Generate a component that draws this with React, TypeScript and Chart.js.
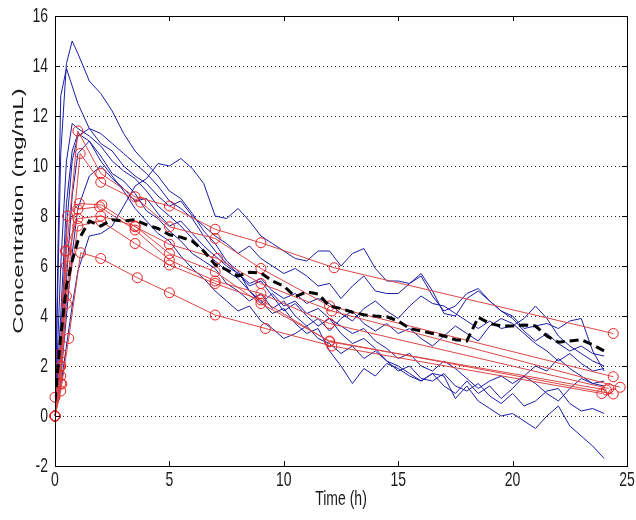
import React, { useEffect, useRef } from "react";
import { Chart, registerables } from "chart.js";
Chart.register(...registerables);

// ---------- data ----------
const simTimes = [0, 0.25, 0.5, 0.75, 1, 1.5, 2, 2.5, 3, 3.5, 4, 4.5, 5, 5.5, 6, 6.5, 7, 7.5, 8, 8.5, 9, 9.5, 10, 10.5, 11, 11.5, 12, 12.5, 13, 13.5, 14, 14.5, 15, 15.5, 16, 16.5, 17, 17.5, 18, 18.5, 19, 19.5, 20, 20.5, 21, 21.5, 22, 22.5, 23, 23.5, 24];

const sim1 = [0, 10.5, 14.1, 15.0, 14.5, 13.4, 12.9, 12.2, 11.3, 10.6, 10.1, 9.6, 9.0, 8.7, 8.1, 7.4, 6.9, 6.2, 5.8, 5.0, 4.6, 4.1, 4.3, 3.7, 3.3, 3.5, 2.6, 2.0, 1.3, 1.9, 1.6, 2.1, 1.9, 1.6, 1.4, 1.7, 1.6, 0.7, 1.2, 0.6, 0.3, 0.0, 0.1, -0.2, -0.5, 0.0, 0.4, -0.4, -0.8, -1.2, -1.7];
const sim2 = [0, 12.8, 13.9, 13.2, 12.5, 11.5, 11.3, 10.9, 10.5, 10.1, 9.7, 9.2, 8.6, 8.3, 7.9, 7.2, 6.6, 6.1, 5.7, 5.2, 5.4, 4.8, 4.2, 4.5, 4.0, 3.6, 3.9, 3.3, 2.9, 3.1, 2.7, 2.2, 1.8, 2.0, 1.5, 1.4, 1.7, 1.2, 1.0, 1.3, 0.8, 0.5, 0.9, 0.4, 0.6, 1.0, 1.1, 0.5, 0.2, 0.3, 0.1];
const sim3 = [0, 6.0, 10.2, 11.7, 11.5, 11.2, 10.8, 10.2, 9.8, 9.5, 9.0, 8.4, 8.0, 7.6, 7.1, 6.6, 6.2, 5.8, 5.5, 5.0, 4.5, 4.9, 4.4, 4.6, 4.1, 4.3, 3.9, 3.6, 3.3, 3.5, 3.0, 2.7, 2.3, 2.5, 2.0, 1.8, 2.2, 1.9, 1.5, 1.1, 1.4, 1.6, 1.3, 1.6, 2.0, 1.8, 2.3, 1.9, 1.6, 1.3, 1.4];
const sim4 = [0, 3.0, 7.5, 10.2, 11.2, 11.5, 10.9, 10.6, 10.0, 9.6, 9.3, 8.8, 8.4, 8.6, 8.0, 7.6, 7.2, 6.9, 6.5, 6.8, 6.3, 6.0, 5.7, 5.9, 5.6, 5.2, 5.3, 4.7, 5.2, 5.6, 5.0, 4.9, 4.9, 5.3, 5.6, 4.8, 4.2, 4.4, 4.9, 5.1, 4.6, 4.2, 3.9, 3.4, 3.0, 3.3, 2.9, 2.6, 2.8, 2.5, 2.4];
const sim5 = [0, 4.0, 8.5, 10.6, 11.3, 11.0, 10.4, 9.7, 9.4, 8.9, 8.2, 7.9, 7.4, 7.0, 6.5, 6.2, 5.9, 5.3, 5.0, 4.6, 4.9, 4.3, 4.6, 4.0, 3.6, 3.9, 3.4, 3.9, 4.2, 3.7, 3.4, 3.7, 3.3, 3.5, 3.1, 2.8, 3.2, 3.6, 3.3, 3.0, 3.6, 3.9, 3.7, 3.3, 2.9, 2.6, 2.2, 2.5, 2.1, 1.8, 1.9];
const sim6 = [0, 2.0, 5.5, 8.8, 10.5, 11.0, 10.2, 9.6, 9.0, 8.3, 7.8, 7.3, 7.0, 6.4, 5.9, 5.5, 5.0, 4.6, 4.2, 4.4, 3.8, 3.5, 3.1, 3.3, 3.6, 3.1, 2.9, 2.5, 2.8, 2.3, 2.6, 2.2, 2.0, 1.7, 1.4, 1.7, 1.2, 0.9, 1.4, 0.9, 1.2, 0.7, 1.1, 1.6, 1.3, 0.9, 0.6, 1.1, 1.5, 1.3, 1.2];
const sim7 = [0, 1.5, 4.0, 6.5, 8.3, 9.6, 10.0, 9.5, 9.1, 8.6, 8.7, 8.1, 7.6, 7.8, 7.3, 6.8, 6.4, 6.0, 5.7, 5.3, 5.5, 5.0, 4.7, 4.9, 4.5, 4.7, 4.5, 4.1, 3.8, 4.3, 4.6, 4.2, 3.9, 4.4, 4.8, 4.5, 4.4, 4.1, 3.8, 3.5, 3.8, 3.5, 3.6, 3.9, 4.4, 3.9, 3.2, 2.8, 2.5, 2.2, 2.0];
const sim8 = [0, 1.2, 2.8, 4.4, 5.8, 7.2, 7.3, 7.6, 8.4, 9.2, 9.5, 10.1, 10.0, 10.3, 9.9, 9.3, 8.0, 7.9, 8.3, 7.8, 7.2, 6.9, 6.6, 6.3, 6.2, 6.6, 6.6, 6.0, 6.5, 6.7, 5.9, 5.4, 5.4, 5.3, 5.7, 5.0, 4.1, 4.0, 4.7, 5.0, 4.6, 4.2, 4.0, 3.5, 3.6, 3.7, 3.5, 3.8, 3.9, 2.6, 1.8];
const simSeries = [sim1, sim2, sim3, sim4, sim5, sim6, sim7, sim8];

const meanConc = [0.6, 3.2, 5.2, 6.2, 7.0, 7.8, 7.6, 7.85, 7.8, 7.85, 7.65, 7.5, 7.25, 7.15, 7.0, 6.6, 6.05, 5.85, 5.6, 5.75, 5.72, 5.4, 5.2, 4.77, 4.97, 4.88, 4.4, 4.3, 4.15, 4.05, 4.0, 3.97, 3.8, 3.5, 3.4, 3.3, 3.2, 3.05, 3.0, 3.95, 3.7, 3.6, 3.6, 3.64, 3.6, 3.2, 2.95, 3.0, 3.05, 2.85, 2.6];

const obsTimesA = [0, 0.25, 0.5, 1.0, 2.0, 3.5, 5.0, 7.0, 9.0, 12.2, 24.4];
const obsConcA = [0, 2.0, 6.6, 11.4, 9.7, 8.77, 8.4, 7.47, 6.93, 5.93, 3.3];
const obsTimesB = [0, 0.25, 0.5, 1.1, 2.0, 3.75, 5.0, 7.0, 9.0, 12.0, 24.4];
const obsConcB = [0, 1.3, 4.8, 10.5, 9.35, 8.55, 7.57, 7.1, 5.9, 4.4, 1.57];
const obsTimesC = [0, 0.25, 0.55, 1.06, 2.05, 3.5, 5.0, 7.1, 9.0, 12.1, 24.7];
const obsConcC = [0, 2.5, 8.0, 8.5, 8.44, 7.57, 6.87, 6.3, 5.3, 4.2, 1.15];
const obsTimesD = [0, 0.25, 0.5, 1.0, 1.95, 3.5, 5.0, 7.0, 9.0, 12.0, 24.2];
const obsConcD = [0.75, 2.0, 6.0, 8.27, 8.37, 7.44, 6.24, 5.4, 4.9, 3.7, 1.1];
const obsTimesE = [0, 0.25, 0.5, 1.0, 2.0, 3.5, 5.0, 7.0, 9.0, 12.0, 24.1];
const obsConcE = [0, 1.6, 4.5, 7.6, 7.8, 6.9, 6.04, 5.3, 4.64, 2.97, 1.04];
const obsTimesF = [0, 0.3, 0.6, 1.12, 2.0, 3.6, 5.0, 7.0, 9.2, 12.1, 23.9];
const obsConcF = [0, 1.28, 3.1, 6.53, 6.3, 5.53, 4.93, 4.04, 3.5, 2.8, 0.9];
const obsTimesG = [0, 0.25, 0.45, 1.0, 2.0, 3.5, 5.0, 7.0, 9.0, 12.0, 24.4];
const obsConcG = [0, 1.0, 6.6, 7.9, 8.0, 7.6, 6.5, 5.77, 4.5, 3.0, 0.88];
const obsSeries = [
  [obsTimesA, obsConcA], [obsTimesB, obsConcB], [obsTimesC, obsConcC], [obsTimesD, obsConcD],
  [obsTimesE, obsConcE], [obsTimesF, obsConcF], [obsTimesG, obsConcG],
];

const xTicks = [0, 5, 10, 15, 20, 25];
const yTicks = [-2, 0, 2, 4, 6, 8, 10, 12, 14, 16];
const xTitle = "Time (h)";
const yTitle = "Concentration (mg/mL)";

const FONT = '"Liberation Sans", Arial, sans-serif';

function stretchedText(ctx: CanvasRenderingContext2D, text: string, x: number, y: number, size: number, align: CanvasTextAlign, sy: number, rotate = false) {
  ctx.save();
  ctx.translate(x, y);
  if (rotate) {
    ctx.rotate(-Math.PI / 2);
    ctx.scale(sy, 1);
  } else {
    ctx.scale(1, sy);
  }
  ctx.font = `${size}px ${FONT}`;
  ctx.fillStyle = "#1a1a1a";
  ctx.textAlign = align;
  ctx.textBaseline = "middle";
  ctx.fillText(text, 0, 0);
  ctx.restore();
}

const matlabAxes = {
  id: "matlabAxes",
  beforeDatasetsDraw(chart: any) {
    const { ctx, chartArea } = chart;
    const ys = chart.scales.y;
    ctx.save();
    ctx.strokeStyle = "rgba(0,0,0,0.85)";
    ctx.lineWidth = 1;
    ctx.setLineDash([1, 3]);
    yTicks.forEach((v) => {
      if (v <= ys.min || v >= ys.max) return;
      const py = Math.round(ys.getPixelForValue(v)) + 0.5;
      ctx.beginPath();
      ctx.moveTo(chartArea.left, py);
      ctx.lineTo(chartArea.right, py);
      ctx.stroke();
    });
    ctx.restore();
  },
  afterDraw(chart: any) {
    const { ctx, chartArea } = chart;
    const xs = chart.scales.x;
    const ys = chart.scales.y;
    const { left, right, top, bottom } = chartArea;
    ctx.save();
    ctx.strokeStyle = "#000";
    ctx.lineWidth = 1;
    ctx.setLineDash([]);
    ctx.strokeRect(left + 0.5, top + 0.5, right - left, bottom - top);
    const tl = 5;
    ctx.beginPath();
    xTicks.forEach((v) => {
      const px = Math.round(xs.getPixelForValue(v)) + 0.5;
      ctx.moveTo(px, bottom);
      ctx.lineTo(px, bottom - tl);
      ctx.moveTo(px, top);
      ctx.lineTo(px, top + tl);
    });
    yTicks.forEach((v) => {
      const py = Math.round(ys.getPixelForValue(v)) + 0.5;
      ctx.moveTo(left, py);
      ctx.lineTo(left + tl, py);
      ctx.moveTo(right, py);
      ctx.lineTo(right - tl, py);
    });
    ctx.stroke();
    ctx.restore();

    xTicks.forEach((v) => {
      stretchedText(ctx, String(v), xs.getPixelForValue(v), bottom + 14, 14, "center", 1.5);
    });
    yTicks.forEach((v) => {
      stretchedText(ctx, String(v), left - 7, ys.getPixelForValue(v), 14, "right", 1.5);
    });
    stretchedText(ctx, xTitle, (left + right) / 2, bottom + 34, 14, "center", 1.4);
    stretchedText(ctx, yTitle, 19, 211, 15, "center", 1.6, true);
  },
};

export default function App() {
  const canvasRef = useRef<HTMLCanvasElement | null>(null);
  useEffect(() => {
    if (!canvasRef.current) return;
    const datasets: any[] = [];
    datasets.push({
      label: "mean",
      data: simTimes.map((t, i) => ({ x: t, y: meanConc[i] })),
      borderColor: "#000",
      borderWidth: 3,
      borderDash: [9, 5],
      pointRadius: 0,
      showLine: true,
    });
    obsSeries.forEach(([ts, cs], k) => {
      datasets.push({
        label: "obs" + k,
        data: ts.map((t, i) => ({ x: t, y: cs[i] })),
        borderColor: "rgb(218,70,70)",
        borderWidth: 1,
        pointRadius: 5,
        pointBorderColor: "rgb(232,35,35)",
        pointBackgroundColor: "rgba(0,0,0,0)",
        pointBorderWidth: 1,
        showLine: true,
        clip: false,
      });
    });
    simSeries.forEach((s, k) => {
      datasets.push({
        label: "sim" + k,
        data: simTimes.map((t, i) => ({ x: t, y: s[i] })),
        borderColor: "rgb(28,28,165)",
        borderWidth: 1,
        pointRadius: 0,
        showLine: true,
      });
    });
    const chart = new Chart(canvasRef.current, {
      type: "scatter",
      data: { datasets },
      options: {
        animation: false,
        responsive: false,
        devicePixelRatio: 1,
        layout: { padding: { left: 55, right: 9, top: 16, bottom: 54 } },
        plugins: { legend: { display: false }, tooltip: { enabled: false } },
        elements: { line: { tension: 0 } },
        scales: {
          x: {
            type: "linear",
            min: 0,
            max: 25,
            ticks: { display: false },
            grid: { display: false },
            border: { display: false },
            afterFit: (s: any) => { s.height = 0; },
          },
          y: {
            type: "linear",
            min: -2,
            max: 16,
            ticks: { display: false },
            grid: { display: false },
            border: { display: false },
            afterFit: (s: any) => { s.width = 0; },
          },
        },
      },
      plugins: [matlabAxes],
    });
    return () => chart.destroy();
  }, []);
  return (
    <div style={{ position: "absolute", left: 0, top: 0, width: 636, height: 520, background: "#fff" }}>
      <canvas ref={canvasRef} width={636} height={520} />
    </div>
  );
}
